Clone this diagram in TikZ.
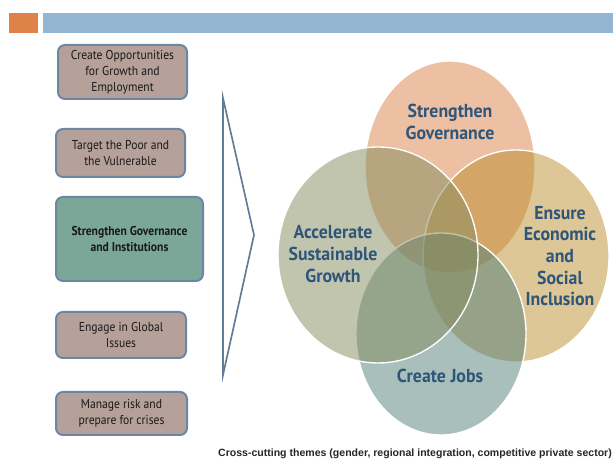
\documentclass[tikz,border=0pt]{standalone}
\usepackage{fontspec}
\setmainfont{PT Sans}
\newfontfamily\boxfont[FakeStretch=0.9]{PT Sans}
\newfontfamily\ringfont[FakeStretch=0.95]{PT Sans}
\newfontfamily\notefont{Liberation Sans}

\definecolor{barorange}{RGB}{223,130,71}
\definecolor{barblue}{RGB}{149,182,211}
\definecolor{boxfill}{RGB}{181,161,153}
\definecolor{boxgreen}{RGB}{123,167,152}
\definecolor{boxedge}{RGB}{108,135,163}
\definecolor{chevronline}{RGB}{95,125,153}
\definecolor{labelblue}{RGB}{46,85,122}
\definecolor{govfill}{RGB}{219,127,71}
\definecolor{inclfill}{RGB}{187,143,47}
\definecolor{jobsfill}{RGB}{81,127,121}
\definecolor{growfill}{RGB}{131,139,93}

\begin{document}
\begin{tikzpicture}[
    aimbox/.style={draw=boxedge, line width=0.06cm, rounded corners=0.21cm,
        fill=boxfill, inner sep=0pt, align=center, text=black!90,
        font=\boxfont\fontsize{11}{13.6}\selectfont},
    ring/.style={fill opacity=0.5, draw=white, line width=0.04cm},
    ringlabel/.style={text=labelblue, align=center,
        font=\ringfont\bfseries\fontsize{16}{18.5}\selectfont}
]
    \useasboundingbox (0,0) rectangle (18.39,13.83);

    % Drawing the title bars
    \fill [barorange] (0.27,12.84) rectangle (1.14,13.44);%
    \fill [barblue] (1.29,12.84) rectangle (18.39,13.44);%

    % Marking the five aims on the left
    \node [aimbox, minimum width=3.87cm, minimum height=1.62cm] (opportunity) at (3.675,11.670)
        {Create Opportunities\\for Growth and\\Employment};%
    \node [aimbox, minimum width=3.87cm, minimum height=1.44cm] (poor) at (3.615,9.240)
        {Target the Poor and\\the Vulnerable};%
    \node [aimbox, fill=boxgreen, minimum width=4.41cm, minimum height=2.52cm,
        font=\boxfont\bfseries\fontsize{11}{14}\selectfont] (governance) at (3.885,6.660)
        {Strengthen Governance\\and Institutions};%
    \node [aimbox, minimum width=3.90cm, minimum height=1.38cm] (global) at (3.630,3.780)
        {Engage in Global\\Issues};%
    \node [aimbox, minimum width=3.93cm, minimum height=1.29cm] (risk) at (3.645,1.425)
        {Manage risk and\\prepare for crises};%

    % Drawing the chevron
    \draw [chevronline, line width=0.05cm, line join=miter] (6.69,10.89) -- (7.62,6.78) -- (6.69,2.58) -- cycle;%

    % Drawing the four ellipses
    \draw [ring, fill=govfill] (13.50,8.82) ellipse [x radius=2.55, y radius=3.18];%
    \draw [ring, fill=inclfill] (15.48,6.15) ellipse [x radius=2.79, y radius=3.18];%
    \draw [ring, fill=jobsfill] (13.23,3.81) ellipse [x radius=2.55, y radius=3.03];%
    \draw [ring, fill=growfill] (11.34,6.18) ellipse [x radius=3.00, y radius=3.24];%

    % Marking the ellipse labels
    \node [ringlabel] (govlabel) at (13.50,10.17) {Strengthen\\Governance};%
    \node [ringlabel] (growlabel) at (9.99,6.21) {Accelerate\\Sustainable\\Growth};%
    \node [ringlabel] (incllabel) at (16.80,6.15) {Ensure\\Economic\\and\\Social\\Inclusion};%
    \node [ringlabel] (jobslabel) at (13.20,2.55) {Create Jobs};%

    % Marking the caption
    \node [font=\notefont\bfseries\fontsize{9}{11}\selectfont, text=black!85, inner sep=0pt] (themes) at (12.45,0.21)
        {Cross-cutting themes (gender, regional integration, competitive private sector)};%
\end{tikzpicture}
\end{document}
